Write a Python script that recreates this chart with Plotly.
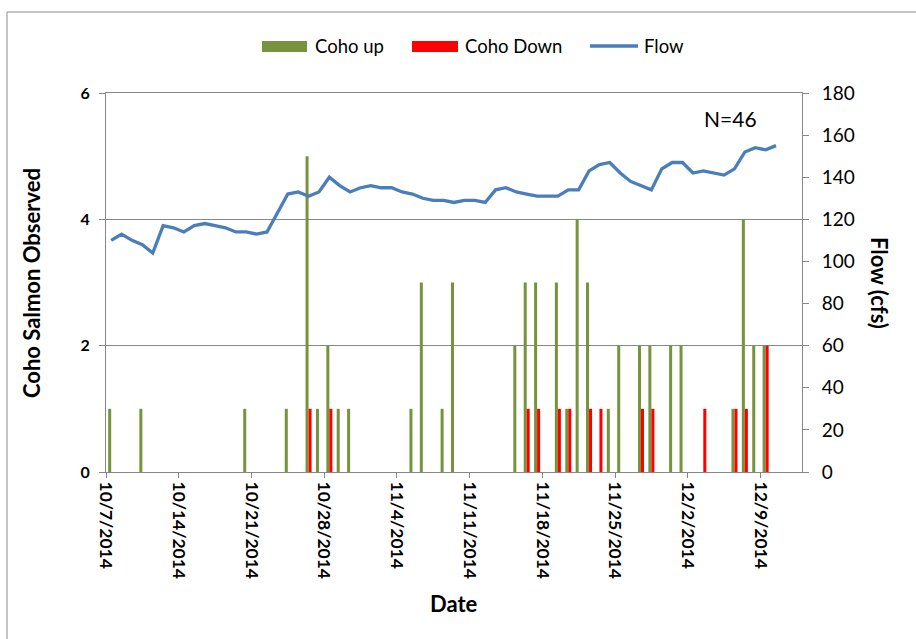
import pandas as pd
import plotly.graph_objects as go

# ---- data -------------------------------------------------------------
flow_start = "2014-10-07"
flow_cfs = [110, 113, 110, 108, 104, 117, 116, 114, 117, 118,
            117, 116, 114, 114, 113, 114, 123, 132, 133, 131,
            133, 140, 136, 133, 135, 136, 135, 135, 133, 132,
            130, 129, 129, 128, 129, 129, 128, 134, 135, 133,
            132, 131, 131, 131, 134, 134, 143, 146, 147, 142,
            138, 136, 134, 144, 147, 147, 142, 143, 142, 141,
            144, 152, 154, 153, 155]

up_dates = ["2014-10-07", "2014-10-10", "2014-10-20", "2014-10-24", "2014-10-26",
            "2014-10-27", "2014-10-28", "2014-10-29", "2014-10-30", "2014-11-05",
            "2014-11-06", "2014-11-08", "2014-11-09", "2014-11-15", "2014-11-16",
            "2014-11-17", "2014-11-19", "2014-11-20", "2014-11-21", "2014-11-22",
            "2014-11-24", "2014-11-25", "2014-11-27", "2014-11-28", "2014-11-30",
            "2014-12-01", "2014-12-06", "2014-12-07", "2014-12-08", "2014-12-09"]
up_counts = [1, 1, 1, 1, 5, 1, 2, 1, 1, 1, 3, 1, 3, 2, 3,
             3, 3, 1, 4, 3, 1, 2, 2, 2, 2, 2, 1, 4, 2, 2]

down_dates = ["2014-10-26", "2014-10-28", "2014-11-16", "2014-11-17", "2014-11-19",
              "2014-11-20", "2014-11-22", "2014-11-23", "2014-11-27", "2014-11-28",
              "2014-12-03", "2014-12-06", "2014-12-07", "2014-12-09"]
down_counts = [1, 1, 1, 1, 1, 1, 1, 1, 1, 1, 1, 1, 1, 2]

tick_dates = ["2014-10-07", "2014-10-14", "2014-10-21", "2014-10-28", "2014-11-04",
              "2014-11-11", "2014-11-18", "2014-11-25", "2014-12-02", "2014-12-09"]
tick_labels = ["10/7/2014", "10/14/2014", "10/21/2014", "10/28/2014", "11/4/2014",
               "11/11/2014", "11/18/2014", "11/25/2014", "12/2/2014", "12/9/2014"]
x_range = ["2014-10-07", "2014-12-13"]
net_label = "N=46"

# ---- styling ----------------------------------------------------------
W, H = 916, 639
ML, MR, MT, MB = 106, 114, 93, 167
GREEN, RED, BLUE, GRID = "#77933C", "#FF0000", "#4A7EBB", "#878787"
FONT = "Lato"


def px(x):
    return (x - ML) / (W - ML - MR)


def py(y):
    return (H - MB - y) / (H - MT - MB)


# each day's values sit in the middle of that day's slot
half_day = pd.Timedelta(hours=12)
flow_x = pd.date_range(flow_start, periods=len(flow_cfs), freq="D") + half_day
up_x = pd.to_datetime(up_dates) + half_day
down_x = pd.to_datetime(down_dates) + half_day

fig = go.Figure()
fig.add_trace(go.Bar(x=up_x, y=up_counts, name="Coho up",
                     marker=dict(color=GREEN, line_width=0)))
fig.add_trace(go.Bar(x=down_x, y=down_counts, name="Coho Down",
                     marker=dict(color=RED, line_width=0)))
fig.add_trace(go.Scatter(x=flow_x, y=flow_cfs, name="Flow", mode="lines",
                         line=dict(color=BLUE, width=3.3), yaxis="y2"))

tick_font = dict(family=FONT, size=17.5, color="black", weight="bold")

fig.update_layout(
    width=W, height=H,
    margin=dict(l=ML, r=MR, t=MT, b=MB),
    paper_bgcolor="white", plot_bgcolor="white",
    showlegend=False,
    barmode="group", bargap=0.42, bargroupgap=0,
    font=dict(family=FONT, color="black"),
    xaxis=dict(type="date", range=x_range, tickvals=tick_dates, ticktext=tick_labels,
               tickangle=90, tickfont=tick_font, showgrid=False,
               showline=True, linecolor=GRID, linewidth=1, mirror=True,
               ticks="outside", ticklen=5, tickcolor=GRID, zeroline=False),
    yaxis=dict(range=[0, 6], dtick=2, showgrid=True, gridcolor=GRID, gridwidth=1,
               showline=True, linecolor=GRID, linewidth=1, zeroline=False,
               ticks="outside", ticklen=6, tickcolor=GRID, ticklabelstandoff=6,
               tickfont=dict(family=FONT, size=16, color="black", weight="bold")),
    yaxis2=dict(range=[0, 180], dtick=20, overlaying="y", side="right",
                showgrid=False, showline=True, linecolor=GRID, linewidth=1,
                zeroline=False, ticks="outside", ticklen=6, tickcolor=GRID,
                ticklabelstandoff=9,
                tickfont=dict(family=FONT, size=19, color="black")),
)

# axis titles
title_font = dict(family=FONT, size=22, color="black", weight="bold")
fig.add_annotation(text="Coho Salmon Observed", xref="paper", yref="paper",
                   x=px(31), y=py(283), textangle=-90, showarrow=False,
                   font=title_font, xanchor="center", yanchor="middle")
fig.add_annotation(text="Flow (cfs)", xref="paper", yref="paper",
                   x=px(880), y=py(283), textangle=90, showarrow=False,
                   font=title_font, xanchor="center", yanchor="middle")
fig.add_annotation(text="Date", xref="paper", yref="paper",
                   x=px(454), y=py(603), showarrow=False,
                   font=title_font, xanchor="center", yanchor="middle")
fig.add_annotation(text=net_label, xref="paper", yref="paper",
                   x=px(730), y=py(119), showarrow=False,
                   font=dict(family=FONT, size=21, color="black"),
                   xanchor="center", yanchor="middle")

# legend row across the top
legend_font = dict(family=FONT, size=18.5, color="black")
fig.add_shape(type="rect", xref="paper", yref="paper",
              x0=px(262), x1=px(307), y0=py(52), y1=py(41),
              fillcolor=GREEN, line_width=0)
fig.add_shape(type="rect", xref="paper", yref="paper",
              x0=px(412), x1=px(458), y0=py(52), y1=py(41),
              fillcolor=RED, line_width=0)
fig.add_shape(type="line", xref="paper", yref="paper",
              x0=px(590), x1=px(638), y0=py(46), y1=py(46),
              line=dict(color=BLUE, width=3.3))
for label, xl in [("Coho up", 313), ("Coho Down", 463), ("Flow", 642)]:
    fig.add_annotation(text=label, xref="paper", yref="paper",
                       x=px(xl), y=py(46), showarrow=False, font=legend_font,
                       xanchor="left", yanchor="middle")

# chart frame
fig.add_shape(type="rect", xref="paper", yref="paper",
              x0=px(7), x1=px(W + 20), y0=py(H + 20), y1=py(12),
              line=dict(color="#8C8C8C", width=1), fillcolor="rgba(0,0,0,0)",
              layer="below")

fig.write_html("out.html")
